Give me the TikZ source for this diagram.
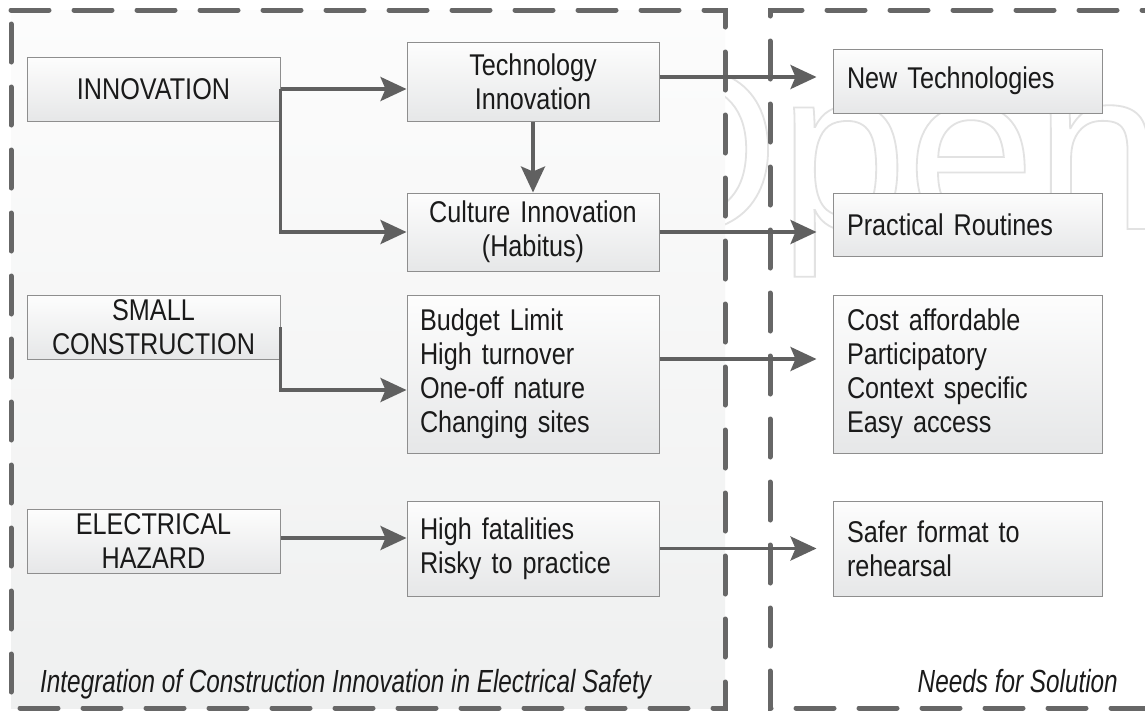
\documentclass[tikz,border=0pt]{standalone}
\usepackage{fontspec}
\setmainfont{Liberation Sans}[FakeStretch=0.84]
\newfontfamily\capfont{Liberation Sans}[FakeStretch=0.76]
\newfontfamily\wmfont{Liberation Sans}
\usetikzlibrary{arrows.meta,calc}
\definecolor{dashgray}{HTML}{676767}
\definecolor{linegray}{HTML}{606060}
\definecolor{boxborder}{HTML}{8E8E8E}
\definecolor{boxtop}{HTML}{FDFDFD}
\definecolor{boxbot}{HTML}{E6E7E8}
\definecolor{paneltop}{HTML}{FCFCFC}
\definecolor{panelbot}{HTML}{EFF0F0}
\definecolor{wmcol}{HTML}{E2E2E2}
\definecolor{txt}{HTML}{1A1A1A}
\tikzset{
  box/.style={draw=boxborder, line width=1pt, top color=boxtop, bottom color=boxbot,
    text=txt, font=\fontsize{30}{34}\selectfont, inner xsep=14pt, inner ysep=0pt},
  cbox/.style={box, align=center},
  lbox/.style={box, align=left},
  conn/.style={draw=linegray, line width=3.5pt, line join=miter,
    -{Stealth[length=26pt,width=24pt,inset=5pt]}},
  farconn/.style={conn, shorten >=16pt},
  frame/.style={draw=dashgray, line width=5pt, dash pattern=on 38pt off 25pt, line cap=round},
  captext/.style={inner sep=0pt, text=txt, font=\capfont\itshape\fontsize{32}{36}\selectfont},
}
\begin{document}
\begin{tikzpicture}[x=1pt,y=-1pt]
\clip (0,0) rectangle (1145,710);
\fill[white] (0,0) rectangle (1145,710);
% watermark
\begin{scope}
\node[anchor=base west, inner sep=0pt, text=wmcol, font=\wmfont\fontsize{230}{230}\selectfont] (wm) at (600,229)
  {\special{pdf:literal direct 1 Tr 1.8 w}Open\special{pdf:literal direct 0 Tr}};
\end{scope}
% panels
\path[top color=paneltop, bottom color=panelbot] (11,10) rectangle (725,708);
\draw[frame] (11,10) -- (725,10) -- (725,708) -- (11,708) -- cycle;
\draw[frame] (1180,10) -- (770,10) -- (770,708) -- (1180,708);
% left column
\node[cbox, text width=225pt, minimum height=64pt] (inn) at (153.5,89) {INNOVATION};
\node[cbox, text width=225pt, minimum height=64pt] (small) at (153.5,327) {SMALL\\CONSTRUCTION};
\node[cbox, text width=225pt, minimum height=64pt] (elec) at (153.5,541) {ELECTRICAL\\HAZARD};
% middle column
\node[cbox, text width=224pt, minimum height=79pt] (tech) at (533,81.5) {Technology\\Innovation};
\node[cbox, text width=224pt, minimum height=78pt] (cult) at (533,232) {Culture Innovation\\(Habitus)};
\node[lbox, inner xsep=13pt, text width=226pt, minimum height=158pt] (budget) at (533,374)
  {Budget Limit\\High turnover\\One-off nature\\Changing sites};
\node[lbox, inner xsep=13pt, text width=226pt, minimum height=95pt] (fatal) at (533,548.5)
  {High fatalities\\Risky to practice};
% right column
\node[lbox, text width=241pt, minimum height=64pt] (newt) at (967.5,81) {New Technologies};
\node[lbox, text width=241pt, minimum height=63pt] (pract) at (967.5,224.5) {Practical Routines};
\node[lbox, text width=241pt, minimum height=158pt] (cost) at (967.5,374)
  {Cost affordable\\Participatory\\Context specific\\Easy access};
\node[lbox, text width=241pt, minimum height=95pt] (safer) at (967.5,548.5)
  {Safer format to\\rehearsal};
% captions
\node[captext, anchor=base west] (cap1) at (40,692) {Integration of Construction Innovation in Electrical Safety};
\node[captext, anchor=base east] (cap2) at (1118,692) {Needs for Solution};
% connectors
\draw[conn] (inn.east) -- (inn.east -| tech.west);
\draw[conn] (inn.east) -- (inn.east |- cult.west) -- (cult.west);
\draw[conn] (tech.south) -- (cult.north);
\coordinate (tout) at ([yshift=4.5pt]tech.east);
\draw[farconn] (tout) -- (tout -| newt.west);
\draw[farconn] (cult.east) -- (cult.east -| pract.west);
\coordinate (bin) at ([yshift=-16pt]budget.west);
\draw[conn] (small.east) -- (small.east |- bin) -- (bin);
\coordinate (bout) at ([yshift=15pt]budget.east);
\draw[farconn] (bout) -- (bout -| cost.west);
\coordinate (eout) at ([yshift=3pt]elec.east);
\draw[conn] (eout) -- (eout -| fatal.west);
\draw[farconn] (fatal.east) -- (fatal.east -| safer.west);
\end{tikzpicture}
\end{document}
